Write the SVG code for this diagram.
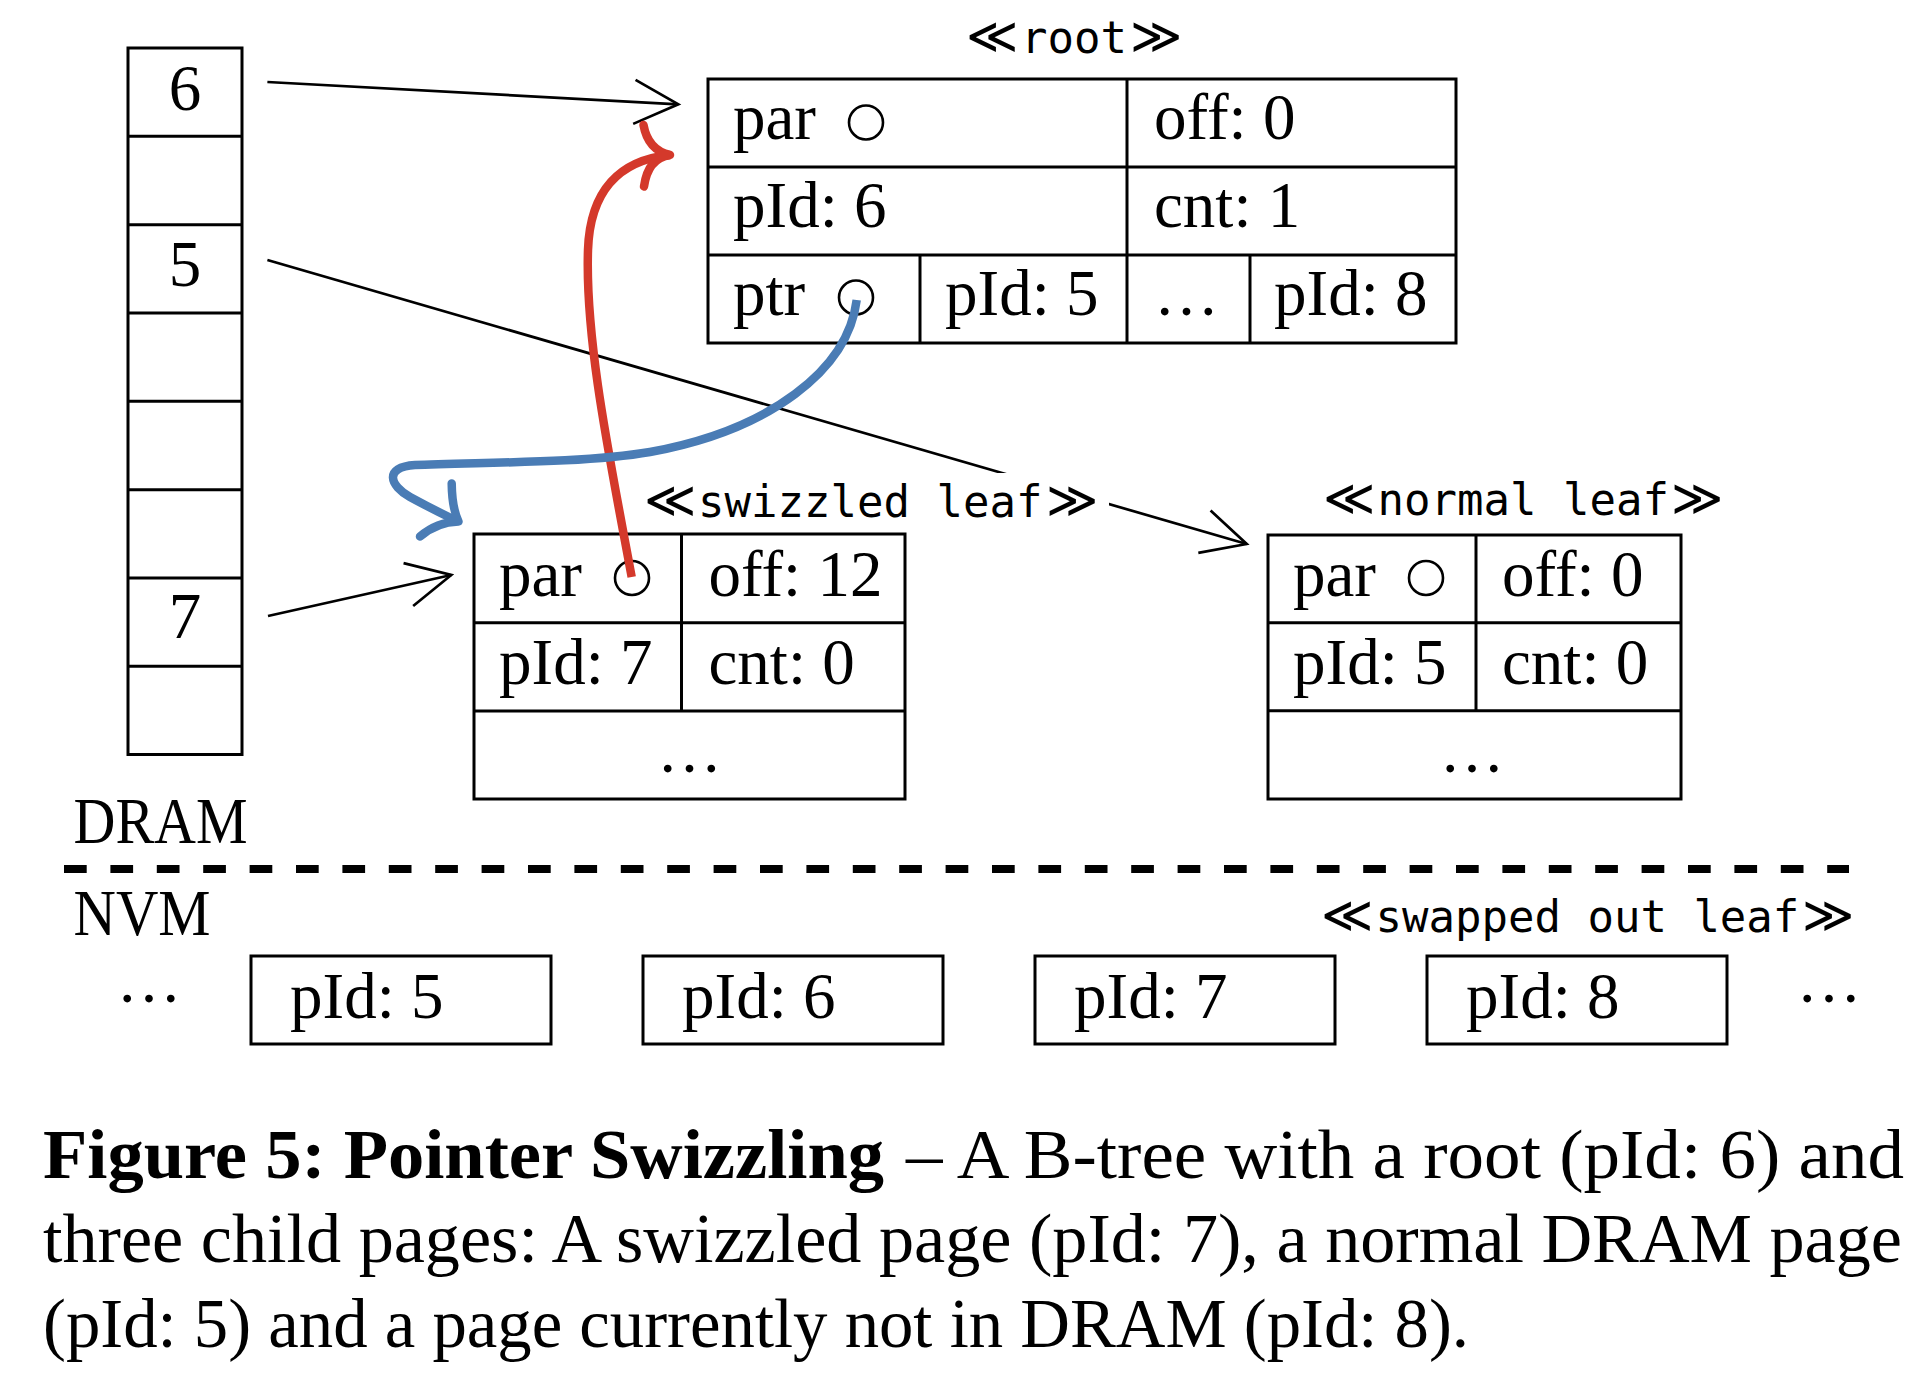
<svg xmlns="http://www.w3.org/2000/svg" width="1920" height="1377" viewBox="0 0 1920 1377">
<defs>
<style>
.t{font-family:"Liberation Serif",serif;font-size:65px;fill:#000}
.c{font-family:"Liberation Serif",serif;font-size:70px;fill:#000}
.m{font-family:"DejaVu Sans Mono",monospace;font-size:44px;fill:#000}
.g{font-family:"DejaVu Sans",sans-serif;font-size:50px;font-weight:200}
.box{fill:none;stroke:#000;stroke-width:3}
.ln{stroke:#000;stroke-width:3}
.dot{fill:none;stroke:#000;stroke-width:2.6}
.conn{fill:none;stroke:#000;stroke-width:2.7}
.red{fill:none;stroke:#D4392B;stroke-width:8.5}
.blue{fill:none;stroke:#4A7CB5;stroke-width:8.5}
</style>
<marker id="arr" markerUnits="userSpaceOnUse" orient="auto" refX="0" refY="0" markerWidth="60" markerHeight="60" viewBox="-50 -30 60 60" overflow="visible">
<path d="M -44 -22 L 0 0 L -44 22" fill="none" stroke="#000" stroke-width="2.7"/>
</marker>
</defs>
<rect width="1920" height="1377" fill="#fff"/>

<g id="dram-table">
<rect class="box" x="128" y="48" width="114" height="706.5"/>
<line class="ln" x1="128" y1="136.3" x2="242" y2="136.3"/>
<line class="ln" x1="128" y1="224.7" x2="242" y2="224.7"/>
<line class="ln" x1="128" y1="313" x2="242" y2="313"/>
<line class="ln" x1="128" y1="401.3" x2="242" y2="401.3"/>
<line class="ln" x1="128" y1="489.7" x2="242" y2="489.7"/>
<line class="ln" x1="128" y1="578" x2="242" y2="578"/>
<line class="ln" x1="128" y1="666.3" x2="242" y2="666.3"/>
<text class="t" x="185" y="109.5" text-anchor="middle">6</text>
<text class="t" x="185" y="286" text-anchor="middle">5</text>
<text class="t" x="185" y="638" text-anchor="middle">7</text>
</g>

<g id="root">
<rect class="box" x="708" y="79" width="748" height="264"/>
<line class="ln" x1="708" y1="167" x2="1456" y2="167"/>
<line class="ln" x1="708" y1="255" x2="1456" y2="255"/>
<line class="ln" x1="1127" y1="79" x2="1127" y2="343"/>
<line class="ln" x1="920" y1="255" x2="920" y2="343"/>
<line class="ln" x1="1250" y1="255" x2="1250" y2="343"/>
<text class="t" x="733" y="139">par</text>
<circle class="dot" cx="866" cy="122.5" r="17"/>
<text class="t" x="1154" y="139">off: 0</text>
<text class="t" x="733" y="227">pId: 6</text>
<text class="t" x="1154" y="227">cnt: 1</text>
<text class="t" x="733" y="315">ptr</text>
<circle class="dot" cx="856" cy="297.5" r="17"/>
<text class="t" x="945" y="315">pId: 5</text>
<text class="t" x="1154" y="315">…</text>
<text class="t" x="1274" y="315">pId: 8</text>
</g>
<g id="root-label">
<text class="m" y="53"><tspan class="g" x="966">≪</tspan><tspan x="1021">root</tspan><tspan class="g" x="1130">≫</tspan></text>
</g>

<g id="swizzled-leaf">
<rect class="box" x="474" y="534" width="431" height="265"/>
<line class="ln" x1="474" y1="622.7" x2="905" y2="622.7"/>
<line class="ln" x1="474" y1="711" x2="905" y2="711"/>
<line class="ln" x1="681.5" y1="534" x2="681.5" y2="711"/>
<text class="t" x="499" y="596">par</text>
<circle class="dot" cx="632" cy="578" r="17"/>
<text class="t" x="708.5" y="596">off: 12</text>
<text class="t" x="499" y="684">pId: 7</text>
<text class="t" x="708.5" y="684">cnt: 0</text>
<text class="t" x="689.5" y="772" text-anchor="middle">…</text>
</g>

<g id="normal-leaf">
<rect class="box" x="1268" y="535" width="413" height="264"/>
<line class="ln" x1="1268" y1="622.7" x2="1681" y2="622.7"/>
<line class="ln" x1="1268" y1="710.7" x2="1681" y2="710.7"/>
<line class="ln" x1="1476" y1="535" x2="1476" y2="710.7"/>
<text class="t" x="1293" y="596">par</text>
<circle class="dot" cx="1426" cy="578" r="17"/>
<text class="t" x="1502" y="596">off: 0</text>
<text class="t" x="1293" y="684">pId: 5</text>
<text class="t" x="1502" y="684">cnt: 0</text>
<text class="t" x="1472" y="772" text-anchor="middle">…</text>
</g>
<g id="normal-leaf-label">
<text class="m" y="515"><tspan class="g" x="1323">≪</tspan><tspan x="1377.5">normal leaf</tspan><tspan class="g" x="1671">≫</tspan></text>
</g>

<g id="separator">
<text class="t" x="73.5" y="843" textLength="174" lengthAdjust="spacingAndGlyphs">DRAM</text>
<line x1="64" y1="869" x2="1849" y2="869" stroke="#000" stroke-width="8" stroke-dasharray="22.7 23.7"/>
<text class="t" x="73.5" y="935" textLength="137" lengthAdjust="spacingAndGlyphs">NVM</text>
<text class="m" y="932"><tspan class="g" x="1321">≪</tspan><tspan x="1375.5">swapped out leaf</tspan><tspan class="g" x="1802">≫</tspan></text>
</g>

<g id="nvm-pages">
<text class="t" x="149" y="1002" text-anchor="middle">…</text>
<g id="nvm-5"><rect class="box" x="251" y="956" width="300" height="88"/><text class="t" x="290" y="1018">pId: 5</text></g>
<g id="nvm-6"><rect class="box" x="643" y="956" width="300" height="88"/><text class="t" x="682" y="1018">pId: 6</text></g>
<g id="nvm-7"><rect class="box" x="1035" y="956" width="300" height="88"/><text class="t" x="1074" y="1018">pId: 7</text></g>
<g id="nvm-8"><rect class="box" x="1427" y="956" width="300" height="88"/><text class="t" x="1466" y="1018">pId: 8</text></g>
<text class="t" x="1829" y="1002" text-anchor="middle">…</text>
</g>

<g id="connectors">
<line class="conn" x1="267.4" y1="82" x2="678.3" y2="104.3" marker-end="url(#arr)"/>
<line class="conn" x1="267.4" y1="260" x2="1246.7" y2="544" marker-end="url(#arr)"/>
<line class="conn" x1="268" y1="616" x2="451.3" y2="575" marker-end="url(#arr)"/>
<path class="red" d="M 631.7 577 C 610 460 585 340 588 250 C 590 190 620 160 670 155"/>
<path class="red" stroke-linecap="round" stroke-linejoin="round" d="M 643.5 125 Q 648 150 670 155 Q 648 158 644 186.5"/>
<path class="blue" d="M 856.7 300 C 848 370 770 430 650 452 C 580 464 470 462 415 465 C 383 467 390 486 410 497 Q 432 509 457 521"/>
<path class="blue" stroke-linecap="round" stroke-linejoin="round" d="M 451.7 483.5 Q 452 508 458.5 521.5 Q 437 522 420 536.5"/>
</g>

<g id="swizzled-leaf-label">
<rect x="636" y="473" width="473" height="58" fill="#fff"/>
<text class="m" y="517"><tspan class="g" x="644">≪</tspan><tspan x="698">swizzled leaf</tspan><tspan class="g" x="1046">≫</tspan></text>
</g>

<g id="caption">
<text class="c" x="43" y="1178" font-weight="bold" textLength="841" lengthAdjust="spacingAndGlyphs">Figure 5: Pointer Swizzling</text>
<text class="c" x="906" y="1178" textLength="998" lengthAdjust="spacingAndGlyphs">– A B-tree with a root (pId: 6) and</text>
<text class="c" x="43" y="1262" textLength="1859" lengthAdjust="spacingAndGlyphs">three child pages: A swizzled page (pId: 7), a normal DRAM page</text>
<text class="c" x="43" y="1347" textLength="1426" lengthAdjust="spacingAndGlyphs">(pId: 5) and a page currently not in DRAM (pId: 8).</text>
</g>
</svg>
